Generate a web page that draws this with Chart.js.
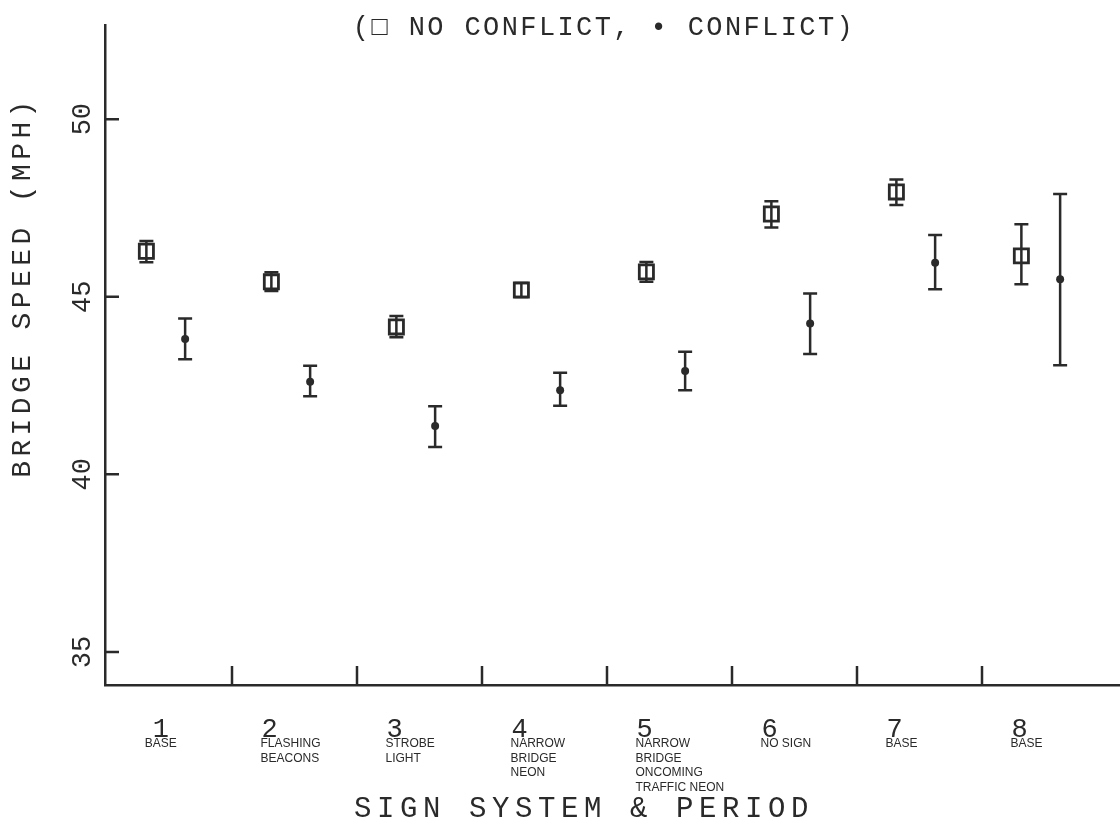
<!DOCTYPE html>
<html lang="en">
<head>
<meta charset="UTF-8">
<title>Bridge Speed by Sign System</title>
<script src="https://cdn.jsdelivr.net/npm/chart.js"></script>
<style>
  html, body { margin: 0; padding: 0; background: #fff; overflow: hidden; }
  #wrap { width: 1120px; height: 825px; }
</style>
</head>
<body>
<div id="wrap"><canvas id="speedChart"></canvas></div>
<script>
// sign system periods and their short descriptions
const periods = [1, 2, 3, 4, 5, 6, 7, 8];
const periodNames = [
  ['BASE'],
  ['FLASHING', 'BEACONS'],
  ['STROBE', 'LIGHT'],
  ['NARROW', 'BRIDGE', 'NEON'],
  ['NARROW', 'BRIDGE', 'ONCOMING', 'TRAFFIC NEON'],
  ['NO SIGN'],
  ['BASE'],
  ['BASE']
];

// mean bridge speed (mph) with lower / upper bar ends
const noConflictMean = [46.28, 45.42, 44.15, 45.19, 45.70, 47.33, 47.95, 46.15];
const noConflictLow  = [45.97, 45.16, 43.86, 44.99, 45.42, 46.95, 47.58, 45.35];
const noConflictHigh = [46.57, 45.69, 44.46, 45.39, 45.98, 47.69, 48.30, 47.04];

const conflictMean = [43.81, 42.61, 41.36, 42.37, 42.91, 44.25, 45.96, 45.49];
const conflictLow  = [43.24, 42.20, 40.77, 41.93, 42.37, 43.39, 45.21, 43.07];
const conflictHigh = [44.39, 43.06, 41.92, 42.86, 43.45, 45.09, 46.74, 47.89];

const speedTicks = [35, 40, 45, 50];

const INK = '#2a2a2a';
const MONO = "'Liberation Mono', 'DejaVu Sans Mono', monospace";
const NARROW = "'Liberation Sans Narrow', 'Liberation Sans', sans-serif";
const SQUARE_SHIFT = -0.185;   // no-conflict marks sit left of the period
const DOT_SHIFT = 0.125;       // conflict marks sit right of it
const LABEL_SHIFT = -0.2;

function errorBars(ctx, x, y, shift, lows, highs) {
  periods.forEach((p, i) => {
    const px = x.getPixelForValue(p + shift);
    const top = y.getPixelForValue(highs[i]);
    const bot = y.getPixelForValue(lows[i]);
    ctx.beginPath();
    ctx.moveTo(px, top); ctx.lineTo(px, bot);
    ctx.moveTo(px - 7, top); ctx.lineTo(px + 7, top);
    ctx.moveTo(px - 7, bot); ctx.lineTo(px + 7, bot);
    ctx.stroke();
  });
}

const decorations = {
  id: 'decorations',
  beforeDatasetsDraw(chart) {
    const { ctx, scales: { x, y } } = chart;
    ctx.save();
    ctx.strokeStyle = INK;
    ctx.lineWidth = 2.5;
    errorBars(ctx, x, y, SQUARE_SHIFT, noConflictLow, noConflictHigh);
    errorBars(ctx, x, y, DOT_SHIFT, conflictLow, conflictHigh);
    ctx.restore();
  },
  afterDraw(chart) {
    const { ctx, scales: { x, y } } = chart;
    ctx.save();
    ctx.strokeStyle = INK;
    ctx.fillStyle = INK;
    ctx.lineWidth = 2.5;

    // inward ticks between periods
    ctx.beginPath();
    periods.slice(1).forEach(p => {
      const px = x.getPixelForValue(p - 0.5);
      ctx.moveTo(px, y.bottom);
      ctx.lineTo(px, y.bottom - 19);
    });
    speedTicks.forEach(v => {
      const py = y.getPixelForValue(v);
      ctx.moveTo(x.left, py);
      ctx.lineTo(x.left + 14, py);
    });
    ctx.stroke();

    // speed tick labels, turned on their side
    ctx.font = '27px ' + MONO;
    ctx.textAlign = 'center';
    ctx.textBaseline = 'middle';
    speedTicks.forEach(v => {
      ctx.save();
      ctx.translate(83, y.getPixelForValue(v));
      ctx.rotate(-Math.PI / 2);
      ctx.fillText(String(v), 0, 0);
      ctx.restore();
    });

    // period numbers and descriptions
    periods.forEach((p, i) => {
      const first = i === 0;
      const px = x.getPixelForValue(p + (first ? -0.07 : LABEL_SHIFT));
      ctx.font = '27px ' + MONO;
      ctx.textAlign = 'center';
      ctx.textBaseline = 'alphabetic';
      ctx.fillText(String(p), px, 737);
      ctx.font = '12px ' + NARROW;
      ctx.textAlign = first ? 'center' : 'left';
      const tx = first ? px : px - 9;
      periodNames[i].forEach((line, k) => {
        ctx.fillText(line, tx, 747 + k * 14.5);
      });
    });

    // legend line across the top
    ctx.font = '27px ' + MONO;
    ctx.letterSpacing = '2.4px';
    ctx.textAlign = 'center';
    ctx.textBaseline = 'alphabetic';
    ctx.fillText('(\u25A1 NO CONFLICT, \u2022 CONFLICT)', 604, 35);

    // axis titles
    ctx.font = '29px ' + MONO;
    ctx.letterSpacing = '5.6px';
    ctx.fillText('SIGN SYSTEM & PERIOD', 584, 817);

    ctx.font = '28px ' + MONO;
    ctx.letterSpacing = '4.4px';
    ctx.textBaseline = 'middle';
    ctx.save();
    ctx.translate(23, 287);
    ctx.rotate(-Math.PI / 2);
    ctx.fillText('BRIDGE SPEED (MPH)', 0, 0);
    ctx.restore();

    ctx.restore();
  }
};

const ctx = document.getElementById('speedChart').getContext('2d');
new Chart(ctx, {
  type: 'scatter',
  data: {
    datasets: [
      {
        label: 'No conflict',
        data: periods.map((p, i) => ({ x: p + SQUARE_SHIFT, y: noConflictMean[i] })),
        pointStyle: 'rect',
        pointRadius: 10,
        borderColor: INK,
        borderWidth: 2.8,
        backgroundColor: 'rgba(0,0,0,0)'
      },
      {
        label: 'Conflict',
        data: periods.map((p, i) => ({ x: p + DOT_SHIFT, y: conflictMean[i] })),
        pointStyle: 'circle',
        pointRadius: 4,
        borderColor: INK,
        borderWidth: 0,
        backgroundColor: INK
      }
    ]
  },
  options: {
    responsive: true,
    maintainAspectRatio: false,
    animation: false,
    events: [],
    layout: { autoPadding: false, padding: { top: 25, right: 0, left: 0, bottom: 0 } },
    plugins: { legend: { display: false }, tooltip: { enabled: false } },
    scales: {
      x: {
        type: 'linear',
        min: 0.484,
        max: 8.604,
        grid: { display: false },
        border: { display: true, color: INK, width: 2.5 },
        ticks: { display: false },
        afterFit: s => { s.height = 140; s.paddingLeft = 0; s.paddingRight = 0; }
      },
      y: {
        min: 34.07,
        max: 52.65,
        grid: { display: false },
        border: { display: true, color: INK, width: 2.5 },
        ticks: { display: false },
        afterFit: s => { s.width = 105; s.paddingTop = 0; s.paddingBottom = 0; }
      }
    }
  },
  plugins: [decorations]
});
</script>
</body>
</html>
